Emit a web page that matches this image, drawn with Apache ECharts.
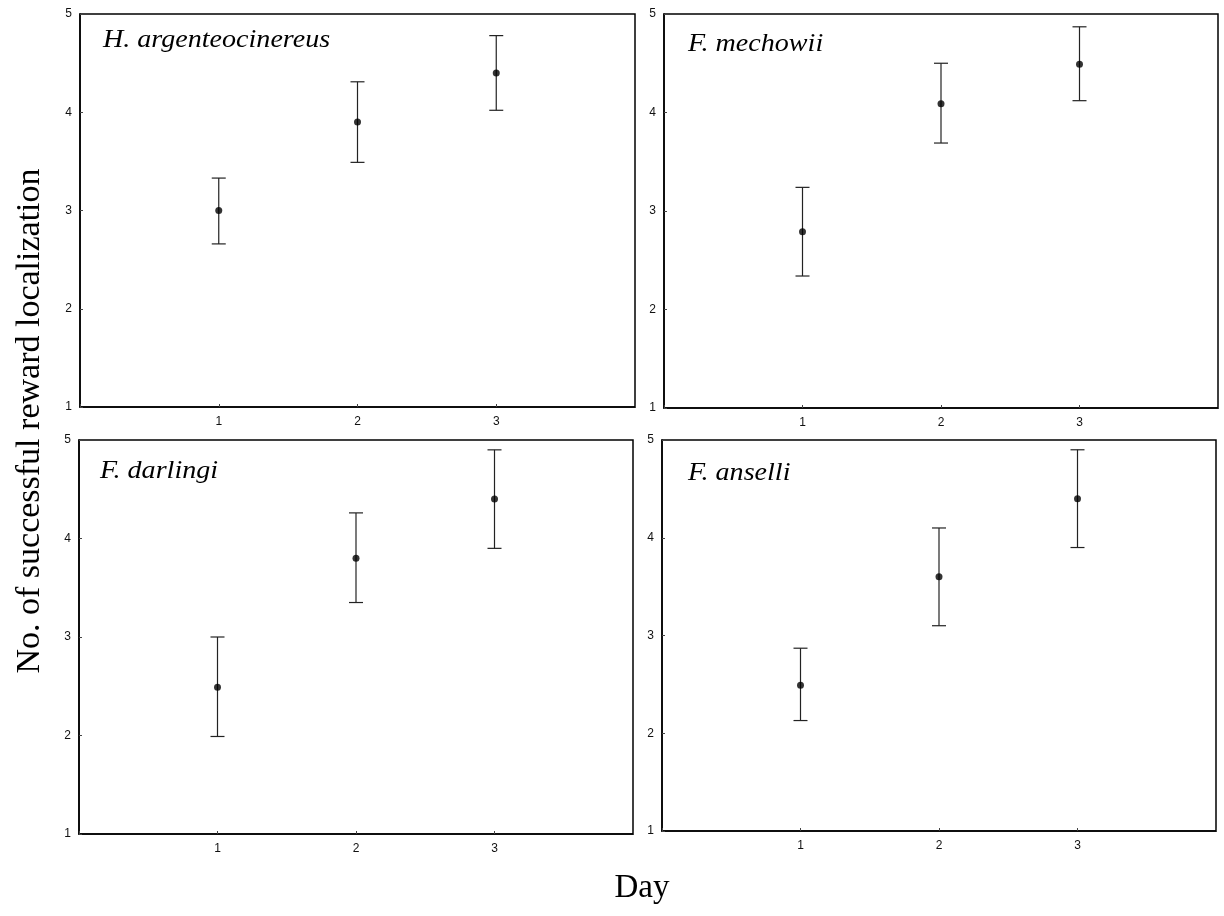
<!DOCTYPE html>
<html>
<head>
<meta charset="utf-8">
<script src="https://cdn.jsdelivr.net/npm/echarts@6/dist/echarts.min.js"></script>
<style>
html,body{margin:0;padding:0;background:#fff;}
#chart{width:1224px;height:916px;}
</style>
</head>
<body>
<div id="chart"></div>
<script>
// ---- data ----
const days = [1, 2, 3];
const xTickLabels = ['1', '2', '3'];
const yTickLabels = ['1', '2', '3', '4', '5'];
const species = ['H. argenteocinereus', 'F. mechowii', 'F. darlingi', 'F. anselli'];

const meanHarg = [3.0, 3.9, 4.4];
const lowHarg  = [2.66, 3.49, 4.02];
const highHarg = [3.33, 4.31, 4.78];

const meanFmec = [2.79, 4.09, 4.49];
const lowFmec  = [2.34, 3.69, 4.12];
const highFmec = [3.24, 4.50, 4.87];

const meanFdar = [2.49, 3.80, 4.40];
const lowFdar  = [1.99, 3.35, 3.90];
const highFdar = [3.00, 4.26, 4.90];

const meanFans = [2.49, 3.60, 4.40];
const lowFans  = [2.13, 3.10, 3.90];
const highFans = [2.87, 4.10, 4.90];

const means = [meanHarg, meanFmec, meanFdar, meanFans];
const lows  = [lowHarg, lowFmec, lowFdar, lowFans];
const highs = [highHarg, highFmec, highFdar, highFans];

// ---- layout ----
const grids = [
  {left: 80,  top: 14,  width: 555, height: 393},
  {left: 664, top: 14,  width: 554, height: 394},
  {left: 79,  top: 440, width: 554, height: 394},
  {left: 662, top: 440, width: 554, height: 391}
];
const titlePos = [[103, 40], [688, 44], [100, 471], [688, 473]];

const chart = echarts.init(document.getElementById('chart'));
const tickFont = {fontFamily: 'Liberation Sans, Arial, sans-serif', fontSize: 12, color: '#111'};
const serif = '"Liberation Serif", "Times New Roman", serif';

const xAxes = [], yAxes = [], series = [], graphics = [];
grids.forEach((g, i) => {
  xAxes.push({
    type: 'value', gridIndex: i, min: 0, max: 4, interval: 1,
    axisLine: {show: true, onZero: false, lineStyle: {color: '#000', width: 1.5}},
    axisTick: {show: true, inside: true, length: 3, lineStyle: {color: '#444'}},
    axisLabel: Object.assign({margin: 9, formatter: v => xTickLabels.includes(String(v)) ? String(v) : ''}, tickFont),
    splitLine: {show: false}
  });
  yAxes.push({
    type: 'value', gridIndex: i, min: 1, max: 5, interval: 1,
    axisLine: {show: true, lineStyle: {color: '#000', width: 1.5}},
    axisTick: {show: true, inside: true, length: 3, lineStyle: {color: '#444'}},
    axisLabel: Object.assign({margin: 8, formatter: v => yTickLabels.includes(String(v)) ? String(v) : ''}, tickFont),
    splitLine: {show: false}
  });
  const errData = days.map((d, k) => [d, lows[i][k], highs[i][k]]);
  series.push({
    type: 'custom', xAxisIndex: i, yAxisIndex: i, data: errData, z: 2,
    renderItem: function (params, api) {
      const x = api.value(0);
      const lo = api.coord([x, api.value(1)]);
      const hi = api.coord([x, api.value(2)]);
      const hw = 7;
      const st = {stroke: '#222', lineWidth: 1.2};
      return {
        type: 'group',
        children: [
          {type: 'line', shape: {x1: lo[0], y1: lo[1], x2: hi[0], y2: hi[1]}, style: st},
          {type: 'line', shape: {x1: lo[0] - hw, y1: lo[1], x2: lo[0] + hw, y2: lo[1]}, style: st},
          {type: 'line', shape: {x1: hi[0] - hw, y1: hi[1], x2: hi[0] + hw, y2: hi[1]}, style: st}
        ]
      };
    }
  });
  series.push({
    type: 'scatter', xAxisIndex: i, yAxisIndex: i, z: 3,
    data: days.map((d, k) => [d, means[i][k]]),
    symbol: 'circle', symbolSize: 7,
    itemStyle: {color: '#000'}
  });
  graphics.push({
    type: 'text',
    x: titlePos[i][0], y: titlePos[i][1], scaleX: 1.08, scaleY: 1, z: 10,
    style: {
      text: species[i],
      font: 'italic 26px ' + serif,
      fill: '#000', align: 'left', verticalAlign: 'middle'
    }
  });
});

graphics.push({
  type: 'text', x: 642, y: 888, z: 10,
  style: {text: 'Day', font: '33px ' + serif, fill: '#000', align: 'center', verticalAlign: 'middle'}
});
graphics.push({
  type: 'text',
  x: 30, y: 421, rotation: Math.PI / 2, z: 10,
  style: {
    text: 'No. of successful reward localization',
    font: '34px ' + serif,
    fill: '#000', align: 'center', verticalAlign: 'middle'
  }
});

chart.setOption({
  animation: false,
  backgroundColor: '#fff',
  grid: grids.map(g => Object.assign({show: true, borderColor: '#000', borderWidth: 1.5, backgroundColor: 'transparent'}, g)),
  xAxis: xAxes,
  yAxis: yAxes,
  series: series,
  graphic: graphics
});
</script>
</body>
</html>
